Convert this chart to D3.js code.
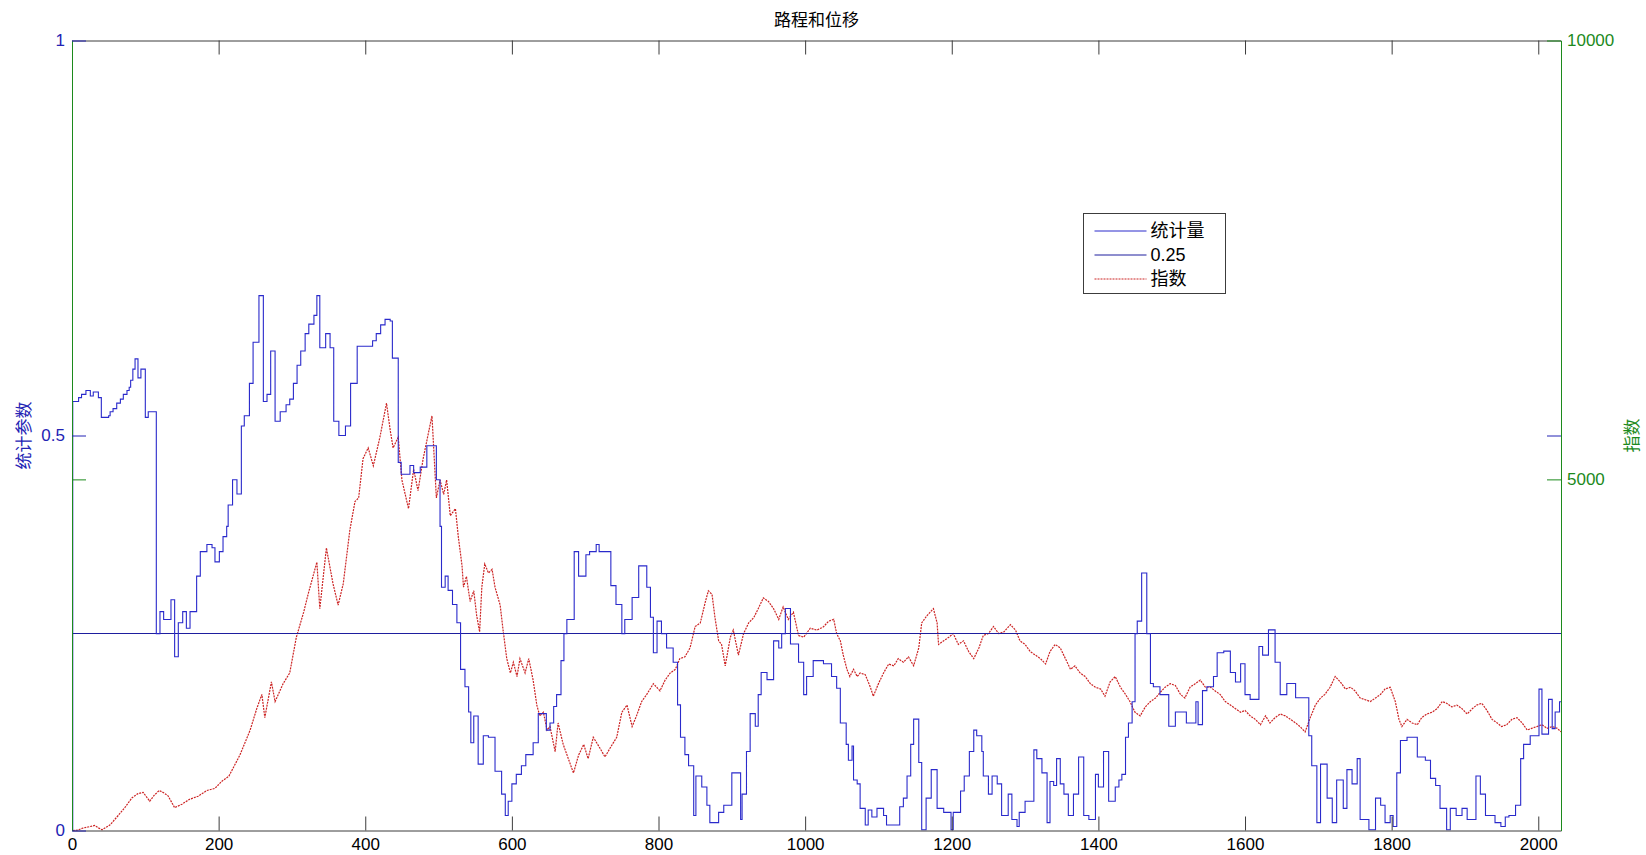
<!DOCTYPE html>
<html>
<head>
<meta charset="utf-8">
<script src="https://cdn.jsdelivr.net/npm/d3@7"></script>
<style>
  html, body { margin: 0; padding: 0; background: #ffffff; }
  svg { display: block; font-family: "Liberation Sans", Arial, "Noto Sans CJK SC", sans-serif; }
</style>
</head>
<body>
<svg id="chart" width="1646" height="855"></svg>
<script>
// ---- texts ----
const titleText = "路程和位移";
const leftAxisLabel = "统计参数";
const rightAxisLabel = "指数";
const legendLabels = ["统计量", "0.25", "指数"];

// ---- ticks ----
const xTicks = [0, 200, 400, 600, 800, 1000, 1200, 1400, 1600, 1800, 2000];
const leftTicks = [0, 0.5, 1];
const rightTicks = [5000, 10000];

// ---- domains ----
const xDomain = [0, 2031];
const leftDomain = [0, 1];
const rightDomain = [1000, 10000];

// reference level drawn as a flat line on the left axis
const thresholdValue = 0.25;

// statistic (left axis), held constant from each x until the next one
const statX = [0,1,9,13,19,25,29,36,40,50,52,56,61,66,70,75,78,80,83,86,90,94,100,104,115,120,125,135,140,145,151,156,161,170,175,184,191,195,201,206,211,213,219,225,231,235,242,247,255,261,266,271,277,284,292,297,302,307,312,318,323,330,334,338,346,352,357,364,373,380,389,410,415,421,427,434,437,445,449,461,466,475,484,497,502,504,509,513,519,525,530,536,541,544,548,554,561,568,577,586,591,595,600,606,613,619,629,636,647,652,657,661,667,671,675,685,691,701,706,715,719,735,742,750,754,764,773,784,789,793,798,804,811,820,826,830,836,841,848,851,859,866,870,882,889,900,912,914,920,925,932,936,940,948,957,964,968,973,980,991,998,1002,1011,1025,1036,1043,1048,1056,1059,1064,1066,1071,1075,1082,1086,1091,1098,1107,1111,1129,1134,1139,1144,1148,1155,1159,1165,1172,1180,1189,1199,1202,1212,1217,1224,1230,1234,1241,1243,1250,1255,1262,1268,1277,1282,1289,1292,1300,1312,1316,1323,1330,1334,1339,1343,1348,1353,1359,1366,1373,1380,1387,1396,1400,1407,1414,1423,1428,1432,1437,1441,1446,1450,1453,1459,1466,1471,1475,1484,1496,1505,1512,1520,1533,1536,1542,1548,1557,1562,1571,1580,1587,1594,1600,1607,1619,1624,1632,1641,1648,1657,1669,1687,1691,1698,1703,1712,1719,1725,1734,1739,1746,1753,1757,1769,1778,1785,1791,1798,1802,1807,1812,1821,1835,1846,1853,1860,1866,1875,1880,1888,1896,1903,1915,1921,1928,1941,1949,1955,1960,1969,1976,1980,1989,2001,2005,2014,2019,2023,2029,2031];
const statY = [0,0.543,0.548,0.552,0.557,0.550,0.555,0.548,0.523,0.525,0.530,0.534,0.541,0.546,0.552,0.557,0.561,0.570,0.584,0.597,0.573,0.584,0.523,0.530,0.249,0.277,0.267,0.292,0.220,0.263,0.277,0.256,0.277,0.322,0.353,0.362,0.358,0.340,0.353,0.372,0.385,0.412,0.444,0.426,0.512,0.525,0.566,0.618,0.677,0.543,0.552,0.607,0.518,0.530,0.539,0.546,0.566,0.589,0.607,0.629,0.641,0.652,0.677,0.611,0.629,0.611,0.518,0.500,0.512,0.566,0.613,0.620,0.629,0.640,0.647,0.645,0.598,0.466,0.451,0.462,0.453,0.460,0.487,0.444,0.385,0.308,0.322,0.304,0.286,0.263,0.204,0.182,0.150,0.111,0.145,0.084,0.120,0.118,0.075,0.046,0.019,0.037,0.059,0.071,0.082,0.096,0.111,0.148,0.127,0.136,0.157,0.172,0.215,0.249,0.267,0.353,0.322,0.349,0.353,0.362,0.353,0.310,0.286,0.249,0.267,0.295,0.335,0.308,0.270,0.225,0.265,0.249,0.231,0.213,0.159,0.118,0.096,0.082,0.019,0.069,0.055,0.032,0.010,0.023,0.032,0.073,0.014,0.046,0.100,0.148,0.132,0.172,0.200,0.191,0.240,0.231,0.249,0.281,0.236,0.213,0.172,0.195,0.215,0.211,0.195,0.180,0.136,0.109,0.089,0.107,0.064,0.059,0.028,0.007,0.026,0.017,0.028,0.019,0.007,0.030,0.041,0.069,0.109,0.141,0.086,0.001,0.041,0.077,0.028,0.023,0.001,0.023,0.050,0.069,0.100,0.127,0.120,0.100,0.069,0.046,0.069,0.059,0.019,0.046,0.014,0.005,0.023,0.037,0.102,0.091,0.073,0.010,0.062,0.057,0.091,0.059,0.046,0.019,0.046,0.093,0.019,0.014,0.071,0.055,0.100,0.037,0.055,0.064,0.071,0.118,0.136,0.163,0.249,0.265,0.326,0.249,0.186,0.182,0.172,0.132,0.150,0.150,0.136,0.163,0.134,0.177,0.182,0.195,0.225,0.227,0.200,0.188,0.211,0.172,0.166,0.233,0.222,0.254,0.213,0.172,0.186,0.168,0.120,0.082,0.010,0.084,0.041,0.010,0.064,0.028,0.077,0.059,0.091,0.014,0.001,0.041,0.032,0.010,0.019,0.005,0.073,0.114,0.118,0.093,0.089,0.066,0.057,0.028,0.001,0.028,0.019,0.028,0.014,0.069,0.046,0.019,0.010,0.005,0.017,0.019,0.032,0.091,0.109,0.120,0.179,0.122,0.166,0.129,0.150,0.163,0.163];

// index (right axis)
const indexX = [1,8,15,22,31,36,41,52,63,72,82,90,97,106,112,119,125,131,140,150,160,172,184,195,204,214,229,243,252,259,263,272,277,288,297,306,316,322,334,338,347,356,363,370,379,386,391,397,404,411,420,429,434,438,445,450,459,466,472,479,491,497,502,507,511,516,523,527,532,534,538,543,548,552,556,559,563,568,573,577,584,588,593,598,602,607,611,618,623,629,634,638,643,648,652,659,663,670,677,684,691,698,704,711,720,727,734,743,750,757,764,770,777,784,793,802,809,816,823,829,836,843,850,857,864,868,873,877,882,886,891,898,902,909,916,923,930,936,943,950,957,964,970,977,984,991,998,1007,1016,1025,1032,1039,1043,1048,1052,1057,1061,1066,1071,1075,1082,1089,1093,1100,1107,1114,1121,1127,1134,1141,1148,1155,1159,1166,1175,1180,1182,1189,1196,1202,1209,1216,1223,1230,1237,1243,1250,1257,1264,1271,1280,1287,1293,1300,1307,1314,1321,1328,1334,1341,1348,1355,1362,1368,1375,1382,1389,1396,1403,1409,1416,1423,1430,1437,1443,1450,1457,1464,1471,1478,1484,1491,1498,1505,1512,1518,1525,1532,1539,1546,1553,1559,1566,1573,1580,1587,1594,1600,1607,1614,1621,1628,1634,1641,1648,1655,1662,1669,1675,1682,1689,1696,1703,1709,1716,1723,1730,1737,1744,1750,1757,1764,1771,1778,1785,1791,1798,1805,1810,1814,1821,1828,1835,1841,1848,1855,1862,1869,1875,1882,1889,1896,1903,1910,1916,1923,1930,1937,1944,1950,1957,1964,1971,1978,1985,1991,1998,2005,2012,2019,2026,2031];
const indexY = [1000,1005,1028,1040,1057,1030,1008,1065,1171,1260,1374,1420,1435,1334,1400,1456,1430,1395,1260,1300,1354,1390,1456,1480,1558,1619,1859,2144,2388,2551,2286,2693,2469,2673,2795,3202,3487,3690,4057,3527,4219,3812,3568,3812,4423,4748,4789,5237,5359,5155,5481,5868,5562,5359,5481,4993,4667,5115,4871,5237,5725,4789,4993,4830,4993,4586,4667,4341,4016,3772,3894,3609,3731,3446,3263,3772,4036,3934,3975,3772,3568,3283,2958,2795,2917,2754,2958,2795,2958,2713,2429,2306,2347,2144,2184,1899,2225,1981,1818,1655,1859,1981,1818,2062,1940,1838,1940,2062,2347,2429,2184,2306,2469,2551,2673,2591,2713,2795,2836,2958,2978,3080,3324,3365,3609,3731,3690,3426,3161,3120,2876,3202,3283,2998,3243,3365,3426,3527,3650,3609,3527,3405,3548,3405,3487,3222,3202,3304,3283,3320,3385,3405,3243,3161,2998,2836,2754,2836,2754,2795,2775,2632,2530,2673,2795,2897,2876,2958,2917,2978,2876,3080,3365,3446,3527,3365,3120,3161,3202,3243,3120,3161,3039,2958,3080,3222,3243,3324,3243,3263,3344,3283,3161,3120,3039,2998,2958,2897,3039,3120,3080,2958,2836,2876,2795,2754,2673,2632,2612,2530,2693,2754,2632,2551,2469,2347,2306,2408,2469,2510,2571,2632,2673,2652,2550,2510,2632,2672,2713,2632,2632,2591,2551,2469,2429,2388,2347,2368,2306,2266,2205,2306,2225,2286,2327,2306,2266,2225,2184,2123,2286,2429,2510,2551,2632,2754,2693,2612,2632,2591,2510,2490,2469,2510,2551,2612,2632,2469,2266,2184,2266,2225,2205,2286,2327,2347,2388,2469,2449,2408,2429,2388,2327,2388,2429,2449,2368,2266,2225,2184,2205,2266,2286,2225,2144,2164,2184,2205,2164,2184,2164,2123];

// ---- colours ----
const statColor = "#2a2acb";
const levelColor = "#1e1e9e";
const indexColor = "#cc2424";
const leftAxisColor = "#2323b4";
const rightAxisColor = "#1c8a1c";
const frameColor = "#3c3c3c";

// ---- layout ----
const plot = { left: 72, right: 1561, top: 40.5, bottom: 830.5 };
const tickLen = 14;

const svg = d3.select("#chart");

const x = d3.scaleLinear().domain(xDomain).range([plot.left, plot.right]);
const yL = d3.scaleLinear().domain(leftDomain).range([plot.bottom, plot.top]);
const yR = d3.scaleLinear().domain(rightDomain).range([plot.bottom, plot.top]);

// plain number labels, no grouping separators or padded decimals
const plainFormat = d => String(d);

svg.append("defs").append("clipPath").attr("id", "plotClip")
  .append("rect")
  .attr("x", plot.left).attr("y", plot.top - 1)
  .attr("width", plot.right - plot.left).attr("height", plot.bottom - plot.top + 2);

const marks = svg.append("g").attr("clip-path", "url(#plotClip)");

// index series, dotted red
const indexData = indexX.map((d, i) => [d, indexY[i]]);
marks.append("path")
  .datum(indexData)
  .attr("fill", "none")
  .attr("stroke", indexColor)
  .attr("stroke-width", 1.2)
  .attr("stroke-dasharray", "2,1")
  .attr("d", d3.line().x(d => x(d[0])).y(d => yR(d[1])));

// flat 0.25 level
marks.append("path")
  .datum([[xDomain[0] + 1, thresholdValue], [xDomain[1], thresholdValue]])
  .attr("fill", "none")
  .attr("stroke", levelColor)
  .attr("stroke-width", 1)
  .attr("d", d3.line().x(d => x(d[0])).y(d => Math.round(yL(d[1])) + 0.5));

// statistic, stepped blue
const statData = statX.map((d, i) => [d, statY[i]]);
marks.append("path")
  .datum(statData)
  .attr("fill", "none")
  .attr("stroke", statColor)
  .attr("stroke-width", 1.1)
  .attr("d", d3.line().curve(d3.curveStepAfter).x(d => x(d[0])).y(d => yL(d[1])));

// ---- axes ----
const tickFont = 17;

// bottom axis with labels
const gBottom = svg.append("g")
  .attr("transform", `translate(0,${plot.bottom})`)
  .call(d3.axisBottom(x).tickValues(xTicks).tickSizeInner(-tickLen).tickSizeOuter(0).tickPadding(7).tickFormat(plainFormat));
gBottom.select(".domain").attr("stroke", frameColor);
gBottom.selectAll(".tick line").attr("stroke", frameColor);
gBottom.selectAll(".tick text").attr("fill", "#000").attr("font-size", tickFont);

// top axis, ticks only
const gTop = svg.append("g")
  .attr("transform", `translate(0,${plot.top})`)
  .call(d3.axisTop(x).tickValues(xTicks).tickSizeInner(-tickLen).tickSizeOuter(0).tickFormat(""));
gTop.select(".domain").attr("stroke", frameColor);
gTop.selectAll(".tick line").attr("stroke", frameColor);

// left axis (statistic)
const gLeft = svg.append("g")
  .attr("transform", `translate(${plot.left},0)`)
  .call(d3.axisLeft(yL).tickValues(leftTicks).tickSizeInner(-tickLen).tickSizeOuter(0).tickPadding(7).tickFormat(plainFormat));
gLeft.select(".domain").attr("stroke", rightAxisColor);
gLeft.selectAll(".tick line").attr("stroke", leftAxisColor);
gLeft.selectAll(".tick text").attr("fill", leftAxisColor).attr("font-size", tickFont);

// right axis (index)
const gRight = svg.append("g")
  .attr("transform", `translate(${plot.right},0)`)
  .call(d3.axisRight(yR).tickValues(rightTicks).tickSizeInner(-tickLen).tickSizeOuter(0).tickPadding(6).tickFormat(plainFormat));
gRight.select(".domain").attr("stroke", rightAxisColor);
gRight.selectAll(".tick line").attr("stroke", rightAxisColor);
gRight.selectAll(".tick text").attr("fill", rightAxisColor).attr("font-size", tickFont);

// tick marks mirrored onto the opposite side
svg.append("g")
  .attr("transform", `translate(${plot.left},0)`)
  .call(d3.axisLeft(yR).tickValues(rightTicks.filter(t => t < rightDomain[1])).tickSizeInner(-tickLen).tickSizeOuter(0).tickFormat(""))
  .call(g => g.select(".domain").remove())
  .call(g => g.selectAll(".tick line").attr("stroke", rightAxisColor));
svg.append("g")
  .attr("transform", `translate(${plot.right},0)`)
  .call(d3.axisRight(yL).tickValues(leftTicks.filter(t => t > leftDomain[0] && t < leftDomain[1])).tickSizeInner(-tickLen).tickSizeOuter(0).tickFormat(""))
  .call(g => g.select(".domain").remove())
  .call(g => g.selectAll(".tick line").attr("stroke", leftAxisColor));

// ---- titles ----
svg.append("text")
  .attr("x", (plot.left + plot.right) / 2).attr("y", 20.5)
  .attr("text-anchor", "middle").attr("dominant-baseline", "central")
  .attr("font-size", 17).attr("fill", "#000")
  .text(titleText);

svg.append("text")
  .attr("transform", `translate(24,${(plot.top + plot.bottom) / 2}) rotate(-90)`)
  .attr("text-anchor", "middle").attr("dominant-baseline", "central")
  .attr("font-size", 17).attr("fill", leftAxisColor)
  .text(leftAxisLabel);

svg.append("text")
  .attr("transform", `translate(1632,${(plot.top + plot.bottom) / 2}) rotate(-90)`)
  .attr("text-anchor", "middle").attr("dominant-baseline", "central")
  .attr("font-size", 17).attr("fill", rightAxisColor)
  .text(rightAxisLabel);

// ---- legend ----
const legend = svg.append("g").attr("transform", "translate(1083.5,213.5)");
legend.append("rect")
  .attr("width", 142).attr("height", 80)
  .attr("fill", "#fff").attr("stroke", frameColor).attr("stroke-width", 1);
const legendStyles = [
  { color: statColor, dash: null },
  { color: levelColor, dash: null },
  { color: indexColor, dash: "2,1" }
];
legendLabels.forEach((label, i) => {
  const cy = 17.5 + i * 24;
  legend.append("line")
    .attr("x1", 11).attr("x2", 63).attr("y1", cy).attr("y2", cy)
    .attr("stroke", legendStyles[i].color).attr("stroke-width", 1)
    .attr("stroke-dasharray", legendStyles[i].dash);
  legend.append("text")
    .attr("x", 67).attr("y", cy)
    .attr("dominant-baseline", "central")
    .attr("font-size", 18).attr("fill", "#000")
    .text(label);
});
</script>
</body>
</html>
